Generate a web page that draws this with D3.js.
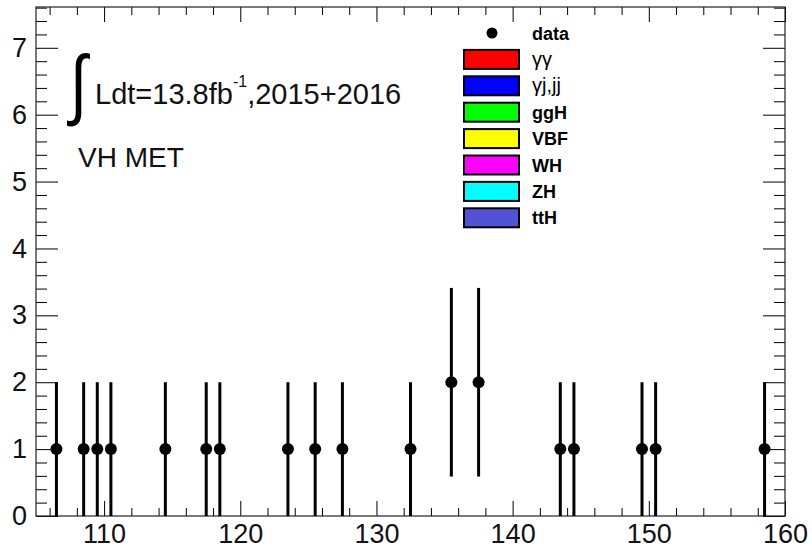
<!DOCTYPE html>
<html><head><meta charset="utf-8">
<script src="https://cdn.jsdelivr.net/npm/d3@7"></script>
<style>body{margin:0;background:#fff}svg{display:block}text{font-family:"Liberation Sans",Arial,Helvetica,sans-serif}</style>
</head><body><svg id="c" width="812" height="548"></svg>
<script>
// ---- data ----
const binCenters = [106.5,108.5,109.5,110.5,114.5,117.5,118.5,123.5,125.5,127.5,132.5,135.5,137.5,143.5,144.5,149.5,150.5,158.5];
const counts     = [1,1,1,1,1,1,1,1,1,1,1,2,2,1,1,1,1,1];
const errors     = [1,1,1,1,1,1,1,1,1,1,1,1.41,1.41,1,1,1,1,1];
const xTicks = [110,120,130,140,150,160];
const yTicks = [0,1,2,3,4,5,6,7];
const legendLabels = ["γγ","γj,jj","ggH","VBF","WH","ZH","ttH"];
const legendColors = ["#ff0000","#0000ff","#00ff00","#ffff00","#ff00ff","#00ffff","#5252d6"];
const lumiText = ["Ldt=13.8fb", "-1", ",2015+2016"];
const channelText = "VH MET";

const L=36,R=785,T=7,B=516;
const svg=d3.select("#c");
const x=d3.scaleLinear().domain([105,160]).range([L,R]);
const y=d3.scaleLinear().domain([0,7.61]).range([B,T]);

const minorX=d3.range(106,161,2).filter(v=>v%10!==0);
const minorY=d3.range(0,7.61,0.2).map(v=>+v.toFixed(1)).filter(v=>Math.abs(v-Math.round(v))>1e-6);

function styleAxis(g){g.select(".domain").remove();g.selectAll("line").attr("stroke","#000").attr("stroke-width",1);
  g.selectAll("text").attr("font-size",27).attr("fill","#111").attr("font-family","Liberation Sans, Arial, sans-serif");}

// bottom
svg.append("g").attr("transform",`translate(0,${B})`).call(d3.axisBottom(x).tickValues(xTicks).tickSizeInner(-15).tickSizeOuter(0).tickPadding(10).tickFormat(d3.format("d"))).call(styleAxis)
  .selectAll("text").attr("dy","0.71em").attr("y",8);
svg.append("g").attr("transform",`translate(0,${B})`).call(d3.axisBottom(x).tickValues(minorX).tickSizeInner(-8).tickSizeOuter(0).tickFormat("")).call(styleAxis);
// top
svg.append("g").attr("transform",`translate(0,${T})`).call(d3.axisTop(x).tickValues(xTicks).tickSizeInner(-15).tickSizeOuter(0).tickFormat("")).call(styleAxis);
svg.append("g").attr("transform",`translate(0,${T})`).call(d3.axisTop(x).tickValues(minorX).tickSizeInner(-8).tickSizeOuter(0).tickFormat("")).call(styleAxis);
// left
svg.append("g").attr("transform",`translate(${L},0)`).call(d3.axisLeft(y).tickValues(yTicks).tickSizeInner(-22).tickSizeOuter(0).tickPadding(9).tickFormat(d3.format("d"))).call(styleAxis);
svg.append("g").attr("transform",`translate(${L},0)`).call(d3.axisLeft(y).tickValues(minorY).tickSizeInner(-11).tickSizeOuter(0).tickFormat("")).call(styleAxis);
// right
svg.append("g").attr("transform",`translate(${R},0)`).call(d3.axisRight(y).tickValues(yTicks).tickSizeInner(-22).tickSizeOuter(0).tickFormat("")).call(styleAxis);
svg.append("g").attr("transform",`translate(${R},0)`).call(d3.axisRight(y).tickValues(minorY).tickSizeInner(-11).tickSizeOuter(0).tickFormat("")).call(styleAxis);

// frame
svg.append("rect").attr("x",L).attr("y",T).attr("width",R-L).attr("height",B-T).attr("fill","none").attr("stroke","#222").attr("stroke-width",1.2);

// data
const pts=binCenters.map((c,i)=>({x:c,v:counts[i],e:errors[i]}));
svg.append("g").selectAll("line").data(pts).join("line")
  .attr("x1",d=>x(d.x)).attr("x2",d=>x(d.x))
  .attr("y1",d=>y(Math.max(0,d.v-d.e))).attr("y2",d=>y(d.v+d.e))
  .attr("stroke","#000").attr("stroke-width",3);
svg.append("g").selectAll("circle").data(pts).join("circle")
  .attr("cx",d=>x(d.x)).attr("cy",d=>y(d.v)).attr("r",6).attr("fill","#000");

// legend
const lg=svg.append("g");
const rowH=26.4, row0=33;
lg.append("circle").attr("cx",492).attr("cy",row0).attr("r",5.5).attr("fill","#000");
lg.append("text").attr("x",532).attr("y",row0+6.5).attr("font-size",18).attr("font-weight","bold").text("data");
legendLabels.forEach((lab,i)=>{
  const cy=row0+rowH*(i+1);
  lg.append("rect").attr("x",464).attr("y",cy-9.5).attr("width",55).attr("height",19)
    .attr("fill",legendColors[i]).attr("stroke","#000").attr("stroke-width",2);
  const greek=i<2;
  lg.append("text").attr("x",532).attr("y",cy+6.5)
    .attr("font-size",greek?20:18)
    .attr("font-family",greek?"Liberation Serif, serif":null)
    .attr("font-weight",greek?"normal":"bold").text(lab);
});

// annotations
svg.append("text").attr("transform","translate(70,110) scale(1,1.25)").attr("font-size",62).attr("font-family","DejaVu Serif, serif").text("∫");
const t=svg.append("text").attr("x",95).attr("y",104).attr("font-size",29).attr("fill","#111");
t.append("tspan").text(lumiText[0]);
t.append("tspan").attr("font-size",16).attr("dy",-17).text(lumiText[1]);
t.append("tspan").attr("dy",17).text(lumiText[2]);
svg.append("text").attr("x",78).attr("y",167).attr("font-size",28).attr("fill","#111").text(channelText);
</script></body></html>
